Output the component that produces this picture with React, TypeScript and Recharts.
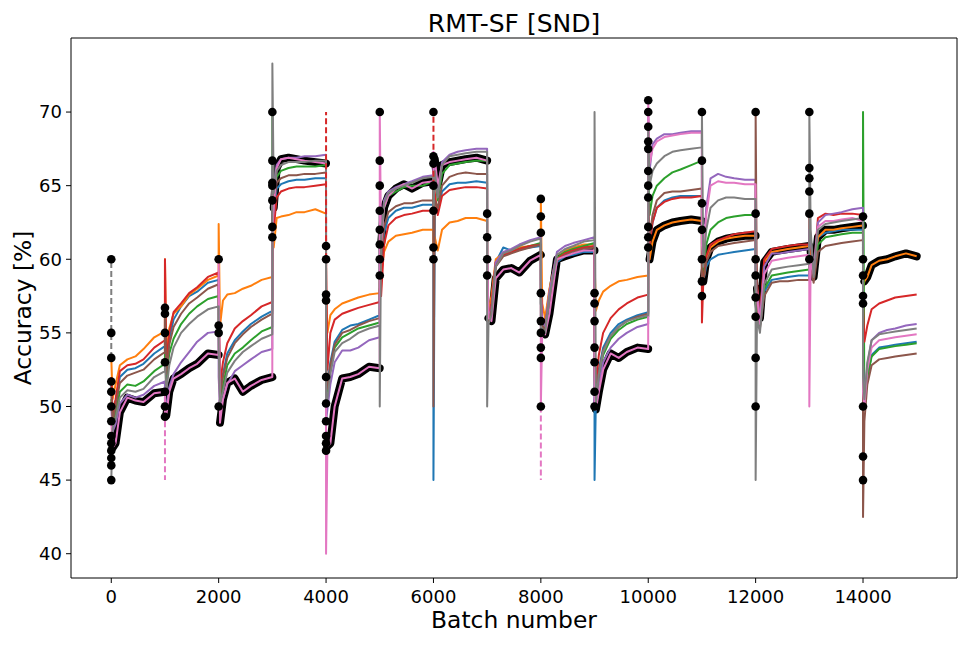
import React from 'react';
import { ComposedChart, Line, XAxis, YAxis, ReferenceLine } from 'recharts';

// sample positions (batches after each task boundary)
const offsets = [0, 25, 80, 160, 300, 450, 600, 800, 999];
const xTicks = [0, 2000, 4000, 6000, 8000, 10000, 12000, 14000];
const yTicks = [40, 45, 50, 55, 60, 65, 70];

// accuracy [%] per task segment (15 segments of 1000 batches), values at `offsets`
const blue = [
  [51.5, 49.3, 50.3, 52.0, 52.5, 52.6, 52.9, 53.6, 54.1],
  [56, 52.5, 54.6, 55.9, 56.8, 57.5, 57.8, 58.4, 58.6],
  [56, 51.0, 52.2, 53.6, 54.5, 55.1, 55.6, 56.1, 56.5],
  [64, 63.0, 64.8, 65.1, 65.3, 65.4, 65.4, 65.5, 65.5],
  [52, 51.5, 53.0, 54.4, 55.2, 55.5, 55.6, 55.9, 56.2],
  [61, 59.5, 61.8, 62.8, 63.3, 63.5, 63.5, 63.7, 63.7],
  [45, 63.5, 63.2, 64.6, 65.1, 65.2, 65.2, 65.3, 65.2],
  [59.5, 56.0, 56.8, 59.8, 60.8, 60.6, 60.7, 60.8, 60.9],
  [57, 55.8, 55.3, 57.3, 59.8, 60.2, 60.3, 60.5, 60.5],
  [45, 50.5, 52.5, 54.0, 55.0, 55.6, 55.9, 56.2, 56.4],
  [62, 61.0, 62.5, 63.5, 64.0, 64.2, 64.3, 64.3, 64.3],
  [58, 58.5, 59.5, 60.0, 60.3, 60.4, 60.5, 60.6, 60.7],
  [58, 57.0, 55.5, 57.8, 58.6, 58.7, 58.8, 58.9, 58.9],
  [60, 60.0, 58.8, 61.5, 61.8, 61.9, 62.0, 62.0, 62.0],
  [54, 50.5, 52.0, 53.5, 54.0, 54.1, 54.2, 54.3, 54.4],
];
const orange = [
  [53.3, 50.5, 51.5, 52.8, 53.2, 53.4, 53.9, 54.7, 55.1],
  [60, 53.5, 55.3, 56.3, 56.8, 57.6, 58.0, 58.6, 58.9],
  [62.4, 55.5, 57.2, 57.6, 57.7, 58.0, 58.2, 58.6, 58.8],
  [61, 60.8, 62.8, 62.9, 63.0, 63.2, 63.2, 63.4, 63.1],
  [58, 55.0, 56.2, 56.6, 57.0, 57.2, 57.4, 57.6, 57.7],
  [59, 59.0, 60.5, 61.2, 61.6, 61.7, 61.8, 62.0, 62.0],
  [60.5, 61.5, 60.6, 62.0, 62.5, 62.6, 62.8, 62.8, 62.6],
  [58, 56.5, 57.5, 60.0, 60.4, 60.6, 60.8, 60.9, 61.0],
  [64, 57.0, 56.0, 58.0, 60.3, 60.6, 60.8, 61.0, 61.0],
  [60, 56.5, 57.2, 57.8, 58.2, 58.5, 58.6, 58.8, 58.9],
  [61, 60.0, 61.2, 62.0, 62.3, 62.5, 62.6, 62.7, 62.6],
  [57, 58.5, 60.0, 60.8, 61.2, 61.4, 61.5, 61.6, 61.6],
  [60, 58.0, 56.0, 59.8, 60.5, 60.6, 60.7, 60.8, 60.9],
  [61, 60.5, 58.8, 61.5, 62.0, 62.0, 62.1, 62.2, 62.3],
  [58, 58.5, 58.8, 59.6, 59.9, 60.0, 60.2, 60.4, 60.2],
];
const green = [
  [50.5, 48.8, 49.6, 51.0, 51.5, 51.4, 51.7, 52.4, 52.9],
  [55, 51.8, 53.6, 54.6, 55.6, 56.3, 56.8, 57.3, 57.5],
  [55, 50.5, 51.4, 52.8, 53.6, 54.0, 54.5, 55.1, 55.4],
  [70, 64.0, 65.6, 66.0, 66.2, 66.3, 66.3, 66.3, 66.4],
  [51, 51.0, 52.5, 54.0, 54.7, 55.0, 55.3, 55.5, 55.7],
  [63, 61.0, 63.5, 64.3, 64.6, 64.9, 65.0, 65.0, 65.3],
  [64, 65.5, 64.0, 65.8, 66.4, 66.5, 66.6, 66.7, 66.7],
  [59, 55.8, 56.5, 59.6, 60.3, 60.5, 60.7, 60.9, 61.1],
  [57, 55.8, 55.4, 57.5, 60.1, 60.5, 60.7, 60.9, 61.1],
  [51, 50.0, 52.0, 53.5, 54.6, 55.2, 55.6, 55.9, 56.1],
  [66, 63.0, 64.3, 65.0, 65.5, 65.9, 66.1, 66.4, 66.7],
  [60, 59.0, 61.0, 62.0, 62.5, 62.8, 62.9, 63.0, 63.0],
  [57, 56.5, 55.5, 58.0, 58.9, 59.0, 59.1, 59.2, 59.3],
  [60, 60.0, 58.6, 61.0, 61.5, 61.6, 61.7, 61.8, 61.8],
  [70, 50.0, 52.0, 53.4, 53.9, 54.0, 54.1, 54.2, 54.3],
];
const red = [
  [52.0, 49.5, 50.5, 52.4, 52.8, 52.9, 53.2, 54.0, 54.5],
  [60, 53.0, 55.0, 56.4, 57.0, 57.7, 58.1, 58.8, 59.1],
  [58, 51.5, 53.0, 54.3, 55.3, 55.8, 56.2, 56.8, 57.1],
  [63, 62.0, 64.2, 64.6, 64.8, 64.9, 64.9, 65.0, 65.1],
  [60, 52.5, 55.0, 55.9, 56.3, 56.5, 56.7, 56.9, 57.1],
  [58, 57.5, 61.0, 62.3, 62.8, 63.0, 63.1, 63.3, 63.3],
  [65, 64.5, 63.0, 64.3, 64.7, 64.8, 64.9, 64.9, 64.8],
  [59, 56.0, 57.0, 59.8, 60.3, 60.5, 60.7, 60.9, 61.0],
  [58, 56.0, 55.5, 57.5, 60.0, 60.4, 60.6, 60.8, 60.9],
  [55, 51.5, 53.5, 55.0, 56.0, 56.6, 57.0, 57.4, 57.6],
  [63, 61.0, 62.5, 63.5, 63.9, 64.1, 64.2, 64.2, 64.3],
  [55.7, 58.5, 60.2, 61.0, 61.3, 61.5, 61.7, 61.8, 61.9],
  [61, 58.5, 56.0, 60.0, 60.7, 60.8, 60.9, 61.0, 61.0],
  [63, 61.0, 59.0, 62.8, 63.1, 63.0, 63.1, 63.1, 63.0],
  [57, 54.4, 55.5, 56.6, 57.0, 57.2, 57.4, 57.5, 57.6],
];
const purple = [
  [50.0, 48.3, 48.8, 50.2, 50.8, 50.6, 50.8, 51.4, 51.7],
  [50, 50.0, 51.3, 52.2, 53.0, 53.7, 54.4, 55.0, 55.1],
  [52, 49.8, 50.5, 51.5, 52.4, 52.8, 53.2, 53.7, 53.9],
  [66, 65.0, 66.4, 66.8, 66.9, 66.9, 67.0, 67.0, 67.1],
  [49, 49.8, 51.5, 53.0, 53.8, 53.8, 54.0, 54.5, 54.7],
  [63, 61.5, 64.0, 64.6, 64.9, 65.1, 65.3, 65.6, 65.7],
  [66, 66.5, 64.5, 66.6, 67.1, 67.3, 67.4, 67.5, 67.5],
  [60, 56.0, 56.6, 59.8, 60.5, 60.7, 61.0, 61.3, 61.5],
  [58, 55.8, 55.4, 57.8, 60.5, 60.9, 61.1, 61.3, 61.5],
  [50, 49.8, 51.5, 53.0, 54.0, 54.6, 55.0, 55.4, 55.6],
  [70, 66.0, 67.8, 68.2, 68.5, 68.5, 68.6, 68.7, 68.7],
  [62, 60.0, 63.5, 65.5, 65.8, 65.6, 65.5, 65.4, 65.4],
  [59, 58.0, 55.8, 59.5, 60.4, 60.4, 60.5, 60.6, 60.7],
  [62, 61.5, 59.2, 62.5, 63.0, 63.1, 63.2, 63.4, 63.5],
  [53, 50.5, 52.8, 54.5, 55.0, 55.2, 55.3, 55.5, 55.6],
];
const brown = [
  [51.0, 49.0, 50.0, 51.6, 52.1, 52.3, 52.5, 53.2, 53.7],
  [57, 52.2, 54.2, 55.4, 56.3, 57.0, 57.4, 58.0, 58.3],
  [56, 50.8, 52.0, 53.3, 54.3, 54.9, 55.4, 55.9, 56.3],
  [65, 63.5, 65.2, 65.5, 65.7, 65.7, 65.8, 65.8, 65.9],
  [53, 51.2, 52.8, 54.2, 55.0, 55.2, 55.5, 55.8, 56.0],
  [62, 60.0, 62.2, 63.2, 63.6, 63.8, 63.8, 64.0, 64.0],
  [50, 64.0, 63.5, 65.0, 65.6, 65.8, 65.9, 65.8, 65.8],
  [58, 55.8, 56.5, 59.5, 60.2, 60.4, 60.6, 60.8, 61.0],
  [56, 55.5, 55.2, 57.2, 59.9, 60.3, 60.5, 60.7, 60.8],
  [52, 50.3, 52.3, 53.8, 54.8, 55.4, 55.8, 56.1, 56.3],
  [64, 61.5, 63.0, 64.0, 64.5, 64.6, 64.6, 64.7, 64.8],
  [58.5, 58.5, 59.8, 60.5, 60.9, 61.0, 61.1, 61.2, 61.3],
  [70, 57.0, 55.3, 57.5, 58.4, 58.5, 58.5, 58.6, 58.6],
  [59, 59.5, 58.4, 60.5, 60.9, 61.0, 61.1, 61.2, 61.3],
  [42.5, 49.0, 51.5, 52.8, 53.2, 53.3, 53.4, 53.5, 53.6],
];
const pink = [
  [49.0, 47.2, 47.5, 49.6, 50.6, 50.4, 50.3, 50.9, 51.0],
  [49, 49.4, 51.0, 51.9, 52.2, 52.6, 52.9, 53.6, 53.5],
  [60, 48.9, 50.5, 51.6, 51.9, 51.0, 51.4, 51.8, 52.0],
  [62, 63.5, 66.2, 66.8, 66.9, 66.8, 66.7, 66.6, 66.5],
  [40, 47.3, 47.5, 50.0, 51.9, 52.0, 52.2, 52.7, 52.6],
  [70, 61.0, 63.5, 64.3, 64.8, 65.1, 64.8, 65.2, 65.3],
  [67.3, 66.8, 65.0, 66.4, 66.6, 66.7, 66.8, 66.9, 66.7],
  [61, 56.0, 55.8, 58.7, 59.3, 59.4, 59.1, 59.9, 60.3],
  [50, 55.0, 54.9, 56.3, 60.0, 60.2, 60.4, 60.6, 60.6],
  [50, 49.8, 51.0, 52.5, 53.6, 53.3, 53.7, 54.0, 53.9],
  [70.8, 66.5, 67.5, 68.0, 68.3, 68.4, 68.5, 68.6, 68.6],
  [61, 59.8, 63.0, 65.0, 65.3, 65.2, 65.2, 65.1, 65.1],
  [58, 57.5, 55.6, 59.0, 59.9, 60.0, 60.1, 60.2, 60.3],
  [50, 60.0, 59.0, 62.2, 62.6, 62.6, 62.7, 62.8, 62.6],
  [51, 50.0, 52.5, 54.0, 54.5, 54.6, 54.7, 54.8, 54.9],
];
const gray = [
  [45.0, 48.5, 49.2, 50.6, 51.1, 51.0, 51.2, 52.0, 52.4],
  [53, 51.0, 52.8, 54.0, 55.0, 55.6, 56.1, 56.6, 56.8],
  [54, 50.2, 51.0, 52.3, 53.1, 53.7, 54.1, 54.6, 54.9],
  [73.3, 64.5, 66.0, 66.4, 66.6, 66.6, 66.6, 66.7, 66.7],
  [50, 50.5, 52.2, 53.7, 54.3, 54.6, 55.0, 55.3, 55.5],
  [50, 61.5, 63.8, 64.5, 64.8, 65.0, 65.2, 65.5, 65.6],
  [63, 66.0, 64.2, 66.4, 67.0, 67.1, 67.2, 67.3, 67.3],
  [50, 55.6, 56.2, 59.5, 60.4, 60.6, 60.9, 61.2, 61.4],
  [55, 55.3, 55.0, 57.4, 60.3, 60.7, 60.9, 61.2, 61.3],
  [70, 50.2, 52.2, 53.7, 54.8, 55.4, 55.8, 56.0, 56.2],
  [69, 65.0, 66.0, 66.5, 67.0, 67.3, 67.4, 67.5, 67.6],
  [70, 59.5, 62.0, 63.5, 64.0, 64.2, 64.2, 64.1, 64.1],
  [45, 56.0, 55.0, 58.3, 59.3, 59.4, 59.5, 59.6, 59.7],
  [70, 62.0, 58.8, 62.0, 62.4, 62.5, 62.6, 62.7, 62.8],
  [52, 50.5, 53.0, 54.5, 54.9, 55.0, 55.1, 55.2, 55.3],
];

// which run the black (selected) curve follows in each segment
const blackFollows = [
  'pink', 'pink', 'pink', 'pink', 'pink', 'pink', 'pink', 'pink', 'pink', 'pink',
  'orange', 'orange', 'orange', 'orange', 'orange',
];
// black markers at each task boundary (first evaluations)
const blackMarkers = [
  [60, 55, 53.3, 51.7, 51, 50, 49, 48, 47.5, 47, 46.5, 46, 45],
  [56.7, 56.3, 55, 53, 51, 50, 49.3],
  [60, 55.5, 55, 50],
  [70, 66.7, 65.2, 65, 64, 62.2, 61.5],
  [60.9, 60, 57.6, 57.2, 52, 50.2, 49, 48, 47.5, 47],
  [70, 66.7, 65, 63.3, 62, 61, 60, 58.9],
  [70, 67, 66.5, 65, 63.3, 60.8, 60],
  [63.1, 61.5, 60, 58.9],
  [64.1, 62.9, 61.8, 57.7, 55.8, 55, 54, 53.3, 50],
  [57.7, 57, 55.8, 54, 53, 51, 50],
  [70.8, 70, 69, 68, 67.5, 66, 65, 64.2, 62.2, 61.5, 60.8],
  [70, 66.7, 63.8, 62, 60, 58.5, 57.5],
  [70, 63.1, 60, 58.9, 57.4, 56.1, 53.3, 50],
  [70, 66.2, 65.5, 64.6, 63.1, 60],
  [62.9, 60, 58.9, 57.5, 57, 50, 46.6, 45],
];
// dashed boundary segments
const dashedSpikes = [
  { x: 0, from: 53.3, to: 60, name: 'gray' },
  { x: 1000, from: 49, to: 45, name: 'pink' },
  { x: 4000, from: 60, to: 70, name: 'red' },
  { x: 6000, from: 65, to: 70, name: 'red' },
  { x: 8000, from: 50, to: 45, name: 'pink' },
];

const seriesNames = ['blue', 'orange', 'green', 'red', 'purple', 'brown', 'pink', 'gray'];
const seriesValues: Record<string, number[][]> = { blue, orange, green, red, purple, brown, pink, gray };
const colors: Record<string, string> = {
  blue: '#1f77b4', orange: '#ff7f0e', green: '#2ca02c', red: '#d62728',
  purple: '#9467bd', brown: '#8c564b', pink: '#e377c2', gray: '#7f7f7f',
};

const toPoints = (segs: number[][]) =>
  segs.flatMap((vals, k) => vals.map((v, i) => ({ x: k * 1000 + offsets[i], y: v })));

const blackLine = blackFollows.flatMap((name, k) => [
  { x: k * 1000, y: null as number | null },
  ...offsets.slice(1).map((o, i) => ({ x: k * 1000 + o, y: seriesValues[name][k][i + 1] as number | null })),
]);
const blackDots = blackMarkers.flatMap((vals, k) => vals.map((v) => ({ x: k * 1000, y: v })));

const FONT = 'DejaVu Sans, sans-serif';
const W = 961;
const H = 630;

export default function App() {
  return (
    <div style={{ position: 'relative', width: W, height: H }}>
      <ComposedChart width={W} height={H} margin={{ top: 30, right: 12, left: 0, bottom: 0 }}>
        <XAxis
          type="number"
          dataKey="x"
          domain={[-750, 15750]}
          allowDataOverflow
          ticks={xTicks}
          height={60}
          tickSize={5}
          tickMargin={7}
          stroke="#000"
          tick={{ fill: '#000', fontSize: 18, fontFamily: FONT }}
        />
        <YAxis
          type="number"
          domain={[38.35, 75.03]}
          allowDataOverflow
          ticks={yTicks}
          width={63}
          tickSize={5}
          tickMargin={4}
          stroke="#000"
          tick={{ fill: '#000', fontSize: 18, fontFamily: FONT }}
        />
        <ReferenceLine y={75.03} stroke="#000" strokeWidth={1} />
        <ReferenceLine x={15750} stroke="#000" strokeWidth={1} />
        <Line
          data={blackLine}
          dataKey="y"
          stroke="#000"
          strokeWidth={8}
          strokeLinejoin="round"
          strokeLinecap="round"
          dot={false}
          activeDot={false}
          connectNulls={false}
          isAnimationActive={false}
        />
        <Line
          data={blackDots}
          dataKey="y"
          stroke="none"
          dot={{ r: 4.3, fill: '#000', stroke: '#000', strokeWidth: 0 }}
          activeDot={false}
          isAnimationActive={false}
        />
        {seriesNames.map((name) => (
          <Line
            key={name}
            data={toPoints(seriesValues[name])}
            dataKey="y"
            stroke={colors[name]}
            strokeWidth={2}
            strokeLinejoin="round"
            dot={false}
            activeDot={false}
            isAnimationActive={false}
          />
        ))}
        {dashedSpikes.map((s, i) => (
          <ReferenceLine
            key={i}
            segment={[{ x: s.x, y: s.from }, { x: s.x, y: s.to }]}
            stroke={colors[s.name]}
            strokeWidth={2}
            strokeDasharray="6 3"
          />
        ))}
      </ComposedChart>
      <svg width={W} height={H} style={{ position: 'absolute', left: 0, top: 0, pointerEvents: 'none' }}>
        <text x={506} y={24} textAnchor="middle" fontSize={25} fontFamily={FONT} fill="#000">RMT-SF [SND]</text>
        <text x={506} y={620} textAnchor="middle" fontSize={23.4} fontFamily={FONT} fill="#000">Batch number</text>
        <text x={23} y={300} transform="rotate(-90 23 300)" textAnchor="middle" fontSize={23.4} fontFamily={FONT} fill="#000">Accuracy [%]</text>
      </svg>
    </div>
  );
}
